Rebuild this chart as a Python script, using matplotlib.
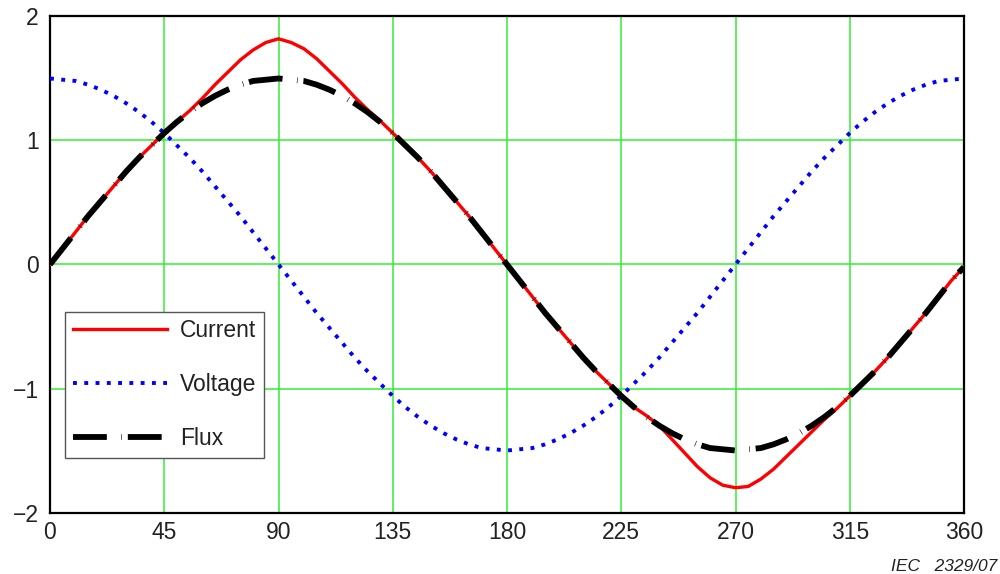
import matplotlib
matplotlib.use("Agg")
import matplotlib.pyplot as plt

plt.rcParams['font.family'] = ['Liberation Sans', 'DejaVu Sans']

angle = list(range(0, 361, 5))

current = [0.00, 0.13, 0.26, 0.39, 0.51, 0.63, 0.75, 0.86, 0.96, 1.06,
           1.15, 1.24, 1.34, 1.45, 1.55, 1.65, 1.73, 1.79, 1.82, 1.79,
           1.74, 1.66, 1.56, 1.46, 1.35, 1.25, 1.16, 1.06, 0.96, 0.86,
           0.75, 0.63, 0.51, 0.39, 0.26, 0.13, 0.00, -0.13, -0.26, -0.39,
           -0.51, -0.63, -0.75, -0.86, -0.96, -1.06, -1.15, -1.22, -1.30, -1.41,
           -1.52, -1.63, -1.72, -1.78, -1.80, -1.79, -1.73, -1.65, -1.55, -1.45,
           -1.35, -1.25, -1.16, -1.06, -0.96, -0.86, -0.75, -0.63, -0.51, -0.39,
           -0.26, -0.13, -0.02]

voltage = [1.50, 1.49, 1.48, 1.45, 1.41, 1.36, 1.30, 1.23, 1.15, 1.06,
           0.96, 0.86, 0.75, 0.63, 0.51, 0.39, 0.26, 0.13, 0.00, -0.13,
           -0.26, -0.39, -0.51, -0.63, -0.75, -0.86, -0.96, -1.06, -1.15, -1.23,
           -1.30, -1.36, -1.41, -1.45, -1.48, -1.49, -1.50, -1.49, -1.48, -1.45,
           -1.41, -1.36, -1.30, -1.23, -1.15, -1.06, -0.96, -0.86, -0.75, -0.63,
           -0.51, -0.39, -0.26, -0.13, 0.00, 0.13, 0.26, 0.39, 0.51, 0.63,
           0.75, 0.86, 0.96, 1.06, 1.15, 1.23, 1.30, 1.36, 1.41, 1.45,
           1.48, 1.49, 1.50]

flux = [0.00, 0.13, 0.26, 0.39, 0.51, 0.63, 0.75, 0.86, 0.96, 1.06,
        1.15, 1.23, 1.30, 1.36, 1.41, 1.45, 1.48, 1.49, 1.50, 1.49,
        1.48, 1.45, 1.41, 1.36, 1.30, 1.23, 1.15, 1.06, 0.96, 0.86,
        0.75, 0.63, 0.51, 0.39, 0.26, 0.13, 0.00, -0.13, -0.26, -0.39,
        -0.51, -0.63, -0.75, -0.86, -0.96, -1.06, -1.15, -1.23, -1.30, -1.36,
        -1.41, -1.45, -1.48, -1.49, -1.50, -1.49, -1.48, -1.45, -1.41, -1.36,
        -1.30, -1.23, -1.15, -1.06, -0.96, -0.86, -0.75, -0.63, -0.51, -0.39,
        -0.26, -0.13, -0.02]

x_ticks = [0, 45, 90, 135, 180, 225, 270, 315, 360]
y_ticks = [-2, -1, 0, 1, 2]
y_tick_labels = ['\u22122', '\u22121', '0', '1', '2']
labels = ['Current', 'Voltage', 'Flux']

fig = plt.figure(figsize=(10, 5.74), dpi=100)
ax = fig.add_axes([0.05, 0.1071, 0.914, 0.8642])

ax.plot(angle, current, color='#ff0000', lw=2.4, label=labels[0], zorder=3)
ax.plot(angle, voltage, color='#0000ff', lw=2.8, linestyle=(0, (1.0, 1.9)),
        label=labels[1], zorder=3)
ax.plot(angle, flux, color='black', lw=4.2, linestyle=(0, (5.8, 2.5, 0.1, 1.0)),
        label=labels[2], zorder=4)

ax.set_xlim(0, 360)
ax.set_ylim(-2, 2)
ax.set_xticks(x_ticks)
ax.set_yticks(y_ticks)
ax.set_yticklabels(y_tick_labels)
ax.tick_params(length=0, labelsize=16.5, labelcolor='#222222')
ax.tick_params(axis='x', pad=6)
ax.tick_params(axis='y', pad=8)
ax.grid(True, color='#33ee33', lw=1.1)
ax.set_axisbelow(True)
for s in ax.spines.values():
    s.set_linewidth(1.6)
    s.set_color('black')

leg = ax.legend(loc='lower left', bbox_to_anchor=(0.0164, 0.110),
                borderaxespad=0, fontsize=16.5, handlelength=4.1,
                handletextpad=0.6, labelspacing=1.36, borderpad=0.33,
                fancybox=False, framealpha=1, edgecolor='#555555')
leg.get_frame().set_linewidth(1.0)
for t in leg.get_texts():
    t.set_color('#222222')

fig.text(0.997, 0.0, 'IEC   2329/07', ha='right', va='bottom',
         fontsize=12.5, style='italic', color='#222222')

fig.savefig('out.png', dpi=100)
